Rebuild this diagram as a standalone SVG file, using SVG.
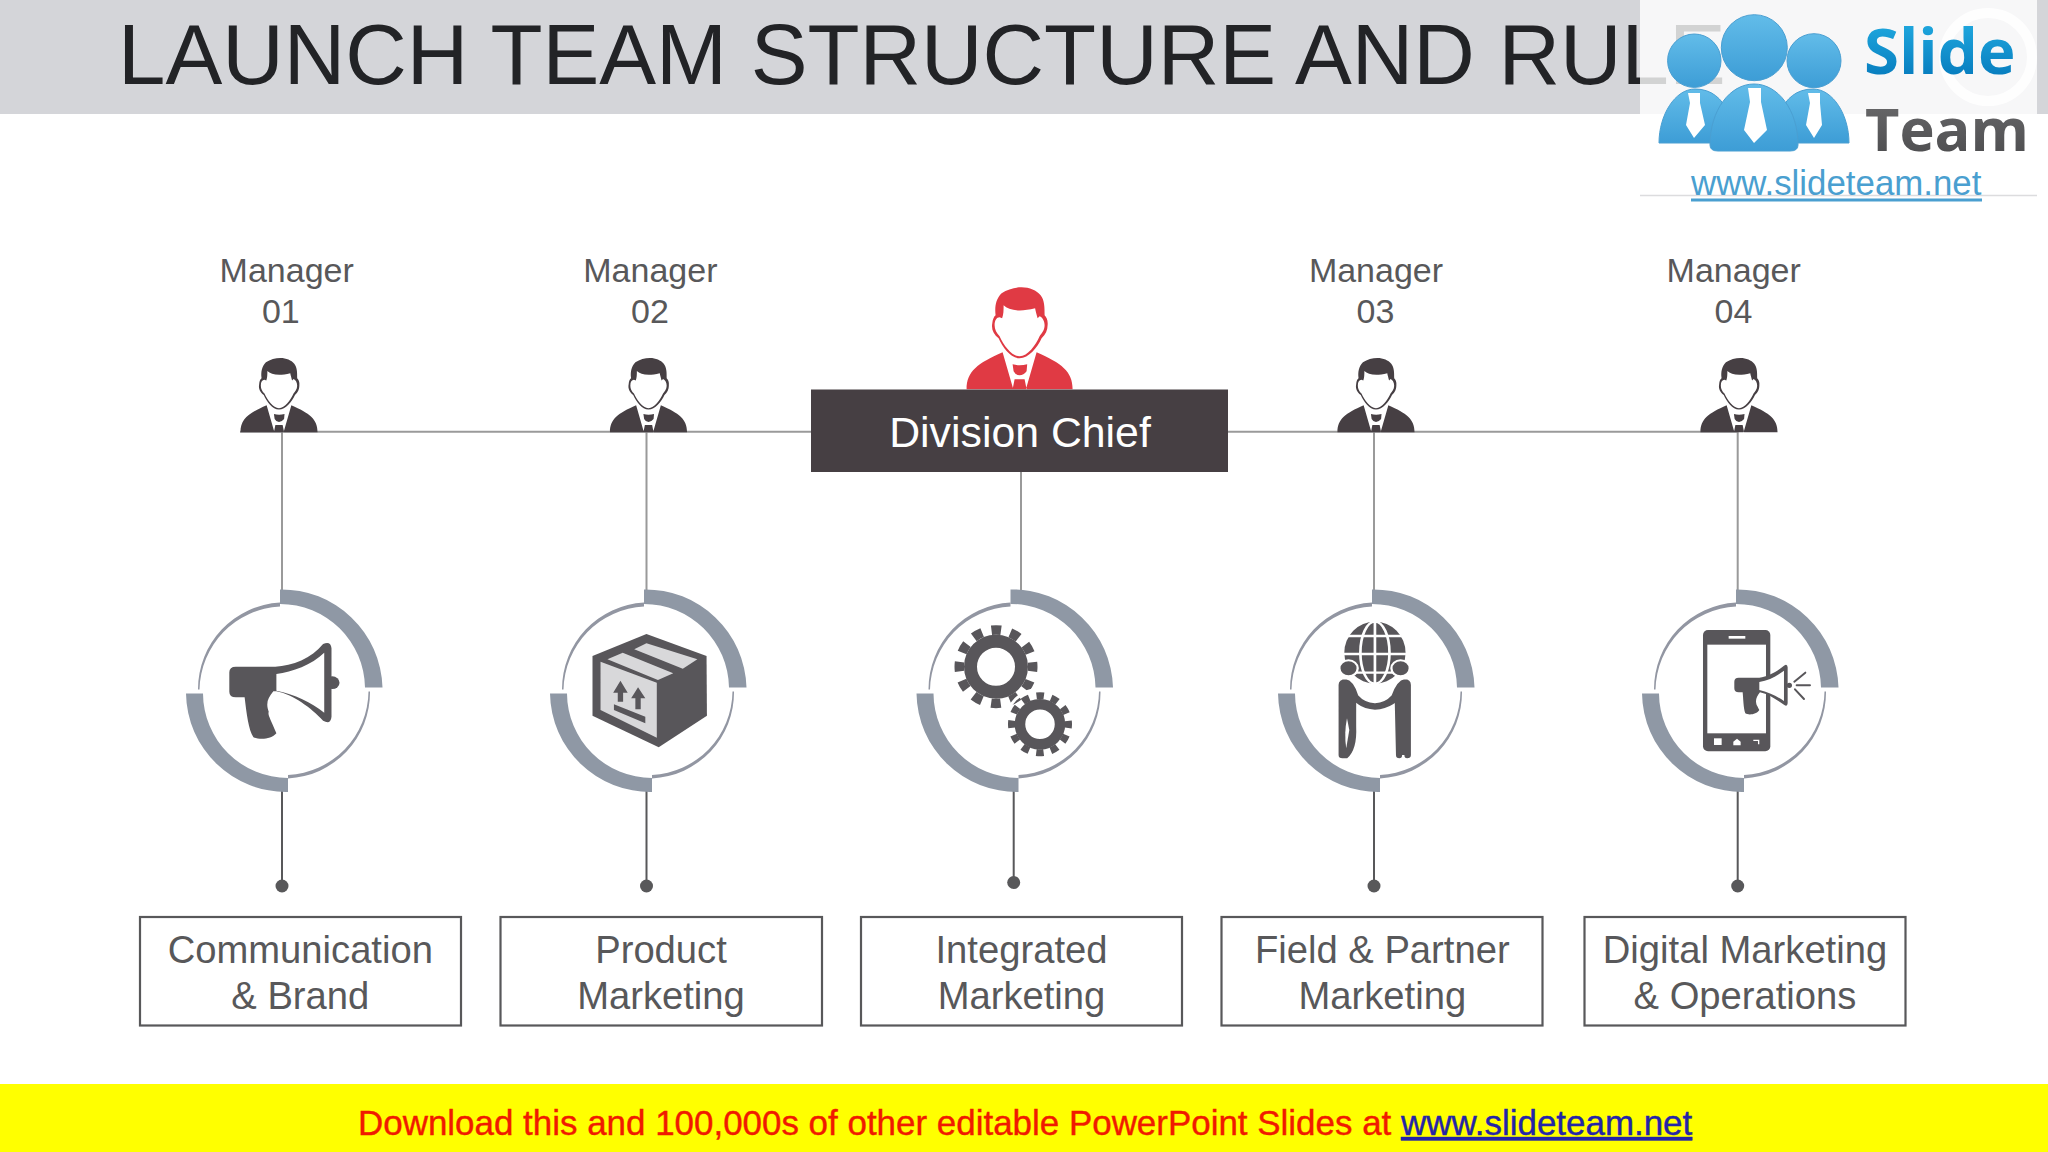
<svg xmlns="http://www.w3.org/2000/svg" width="2048" height="1152" viewBox="0 0 2048 1152">
<style>
text{font-family:"Liberation Sans",Arial,sans-serif}
.mgr{font-size:34px;fill:#58585a;text-anchor:middle}
.lbl{font-size:38.2px;fill:#58585a;text-anchor:middle}
.box{fill:#fff;stroke:#58585a;stroke-width:2.2}
.up{stroke:#9a9a9a;stroke-width:2;fill:none}
.low{stroke:#58585a;stroke-width:2;fill:none}
.dot{fill:#58585a}
.ic{fill:#58565a}
.wh{fill:#fff}
.thick{fill:#8f98a5}
.thin{fill:#9296a2}
</style>
<defs>
<g id="ring">
<path class="thick" d="M-4,-101A101,101 0 0 1 98.5,-3L81,-3A85,85 0 0 0 -4,-86.5Z"/>
<path class="thick" d="M-98,3L-81,3A85,85 0 0 0 4,87.5L4,101.5A100,100 0 0 1 -98,3Z"/>
<path class="thin" d="M-86,-1A87,87 0 0 1 -4,-88L-4,-84A85,85 0 0 0 -84.5,-1Z"/>
<path class="thin" d="M86,1A86,86 0 0 1 4,88L4,84.5A84.5,84.5 0 0 0 84.5,1Z"/>
</g>
<g id="person">
<path d="M-53,102C-53,84 -42,76 -17,65L-6.3,102ZM53,102C53,84 42,76 17,65L6.3,102ZM-7,77Q0,79 7.6,77L7,84Q4,88 0,88Q-4,88 -6,84ZM-5,92L5,92L7,102L-7,102Z"/>
<path d="M0,71C-9,71 -17,60 -21,51C-26,47 -28.5,42 -27.3,36C-27,32 -25.5,29 -24,28C-25,20 -24,12 -18,6C-12,2 -5,0 2,0C10,0 17,3 21,8C25,13 25,20 25,28C27,30 28.5,33 28,38C28,43 26,47 22,51C18,60 9,71 0,71Z"/>
<path class="wh" d="M-16,18C-11,23 0,25 15.5,21C16,24 17,27 18,31L20,29C23,30 25,34 25,38C25,43 22,46 20,49C16,58 8,69 0,69C-8,69 -16,58 -20,49C-23,46 -25,42 -25,38C-25,33 -23,30 -20,30L-17.5,31C-16,27 -16,23 -16,18Z"/>
</g>
<linearGradient id="bl" x1="0" y1="0" x2="0" y2="1"><stop offset="0" stop-color="#62bce9"/><stop offset="1" stop-color="#3d9dd6"/></linearGradient>
<linearGradient id="sl" x1="0" y1="0" x2="0" y2="1"><stop offset="0" stop-color="#27b5e8"/><stop offset="1" stop-color="#0070b5"/></linearGradient>
<linearGradient id="tm" x1="0" y1="0" x2="0" y2="1"><stop offset="0" stop-color="#6f6f71"/><stop offset="1" stop-color="#48484a"/></linearGradient>
</defs>
<rect width="2048" height="1152" fill="#fff"/>
<g id="title-bar">
<rect width="2048" height="114" fill="#d4d5d9"/>
<text x="118" y="83.5" font-size="85.2" fill="#222326">LAUNCH TEAM STRUCTURE AND RULE</text>
</g>
<g id="connectors">
<path class="up" d="M240,431.7H811M1228,431.7H1738"/>
<path class="up" d="M282,431.7V590M646.5,431.7V590M1021,472V590M1374,431.7V590M1737.7,431.7V590"/>
<path class="low" d="M282,790V886M646.5,790V886M1013.7,790V882M1374,790V886M1737.7,790V886"/>
<circle class="dot" cx="282" cy="886" r="6.5"/><circle class="dot" cx="646.5" cy="886" r="6.5"/><circle class="dot" cx="1013.7" cy="882.5" r="6.5"/><circle class="dot" cx="1374" cy="886" r="6.5"/><circle class="dot" cx="1737.7" cy="886" r="6.5"/>
</g>
<g id="manager-1">
<text class="mgr" x="286.7" y="282">Manager</text><text class="mgr" x="280.8" y="323">01</text>
<use href="#person" transform="translate(279,358) scale(.727)" fill="#463f43"/>
</g>
<g id="manager-2">
<text class="mgr" x="650.4" y="282">Manager</text><text class="mgr" x="650" y="323">02</text>
<use href="#person" transform="translate(648.5,358) scale(.727)" fill="#463f43"/>
</g>
<g id="division-chief">
<use href="#person" transform="translate(1019.6,287.3)" fill="#e03a44"/>
<rect x="811" y="389.5" width="417" height="82.5" fill="#463f43"/>
<text x="1020" y="446.7" font-size="42.8" fill="#fff" text-anchor="middle">Division Chief</text>
</g>
<g id="manager-3">
<text class="mgr" x="1376" y="282">Manager</text><text class="mgr" x="1375.5" y="323">03</text>
<use href="#person" transform="translate(1376,358) scale(.727)" fill="#463f43"/>
</g>
<g id="manager-4">
<text class="mgr" x="1733.7" y="282">Manager</text><text class="mgr" x="1733.5" y="323">04</text>
<use href="#person" transform="translate(1739,358) scale(.727)" fill="#463f43"/>
</g>
<g id="communication">
<use href="#ring" x="284" y="690.4"/>
<g class="ic" transform="translate(170,570) scale(.3827,.3333)">
<path d="M172,290H275C320,288 370,265 400,222Q420,212 422,235V440Q420,465 400,452C370,415 320,372 278,364H270C255,385 250,400 258,425C255,435 262,445 278,490C265,508 235,510 218,502C205,480 200,430 195,382H172Q155,382 155,365V307Q155,290 172,290Z"/>
<circle cx="424" cy="338" r="19"/>
<path class="wh" d="M278,312C320,305 370,285 403,248V428C370,398 325,372 278,362Z"/>
</g>
</g>
<g id="product">
<use href="#ring" x="648" y="690.4"/>
<g transform="translate(170,570) scale(.3827,.3333)">
<path class="ic" d="M1245,192L1402,258L1403,437L1277,532L1104,437V258Z"/>
<path fill="#d8d8da" d="M1125,275L1272,338V503L1125,420ZM1143,268L1183,248L1315,310L1275,330ZM1213,238L1245,220L1378,268L1340,296Z"/>
<path class="ic" d="M1177,332L1196,368H1184V395H1170V368H1158ZM1223,352L1242,385H1230V418H1216V385H1205ZM1160,403L1242,440V460L1160,420Z"/>
</g>
</g>
<g id="integrated">
<use href="#ring" x="1014.5" y="690.4"/>
<g fill="none" stroke="#58565a">
<circle cx="996" cy="666.7" r="36.75" stroke-width="9.5" stroke-dasharray="9.62 9.62" stroke-dashoffset="4.81"/>
<circle cx="996" cy="666.7" r="25.5" stroke-width="13"/>
<circle cx="1040" cy="724.3" r="35" stroke="#fff" stroke-width="3"/>
<circle cx="1040" cy="724.3" r="28.5" stroke-width="7" stroke-dasharray="7.46 7.46" stroke-dashoffset="3.73"/>
<circle cx="1040" cy="724.3" r="20" stroke-width="10.5"/>
</g>
</g>
<g id="field-partner">
<use href="#ring" x="1376" y="690.4"/>
<g transform="translate(900,570) scale(.3827,.3333)">
<ellipse class="ic" cx="1241" cy="248" rx="80" ry="93"/>
<g fill="none" stroke="#fff" stroke-width="7">
<ellipse cx="1241" cy="248" rx="38" ry="93"/>
<path d="M1241,155V341M1160,198H1322M1158,252H1322M1165,308H1318"/>
</g>
<g stroke="#fff" stroke-width="6" class="ic">
<circle cx="1172" cy="295" r="24"/><circle cx="1308" cy="295" r="24"/>
<path d="M1143,345Q1143,325 1165,325Q1187,328 1200,375Q1215,395 1241,397Q1267,395 1282,375Q1297,328 1318,325Q1338,325 1338,345V555Q1338,568 1325,568Q1315,568 1315,555Q1315,568 1305,568Q1293,568 1293,555L1290,405Q1270,420 1241,422Q1212,420 1195,405V470Q1198,540 1170,568H1156Q1143,568 1143,555Z"/>
</g>
<path class="wh" d="M1168,445L1174,480L1166,535Q1160,490 1168,445Z"/>
</g>
</g>
<g id="digital">
<use href="#ring" x="1740" y="690.4"/>
<g transform="translate(1600,570) scale(.3333)">
<rect class="ic" x="309" y="180" width="202" height="364" rx="15"/>
<rect class="wh" x="322" y="224" width="176" height="266"/>
<rect class="wh" x="386" y="198" width="50" height="8"/>
<rect class="wh" x="342" y="505" width="23" height="20"/>
<path class="wh" d="M400,526V515L411,506L422,515V526Z"/>
<path fill="none" stroke="#fff" stroke-width="4" d="M460,511H476V523"/>
<path class="ic" d="M416,323H478C505,320 530,305 552,287Q562,280 563,292V400Q562,412 552,404C530,390 505,372 480,367C470,380 465,390 470,405C474,412 476,417 478,420C470,434 445,436 436,430C430,415 430,385 428,367H416Q403,367 403,355V335Q403,323 416,323Z"/>
<path class="wh" d="M478,336C505,332 530,318 552,302V393C530,378 505,366 478,360Z"/>
<circle class="ic" cx="568" cy="346" r="8"/>
<path fill="none" stroke="#58565a" stroke-width="6" stroke-linecap="round" d="M583,335L616,308M590,346H630M585,358L612,387"/>
</g>
</g>
<g id="box-1"><rect class="box" x="140" y="917" width="321" height="108.5"/><text class="lbl" x="300.3" y="962.5">Communication</text><text class="lbl" x="300.3" y="1008.5">&amp; Brand</text></g>
<g id="box-2"><rect class="box" x="500.5" y="917" width="321.5" height="108.5"/><text class="lbl" x="661" y="962.5">Product</text><text class="lbl" x="661" y="1008.5">Marketing</text></g>
<g id="box-3"><rect class="box" x="861" y="917" width="321" height="108.5"/><text class="lbl" x="1021.5" y="962.5">Integrated</text><text class="lbl" x="1021.5" y="1008.5">Marketing</text></g>
<g id="box-4"><rect class="box" x="1221.5" y="917" width="321" height="108.5"/><text class="lbl" x="1382.3" y="962.5">Field &amp; Partner</text><text class="lbl" x="1382.3" y="1008.5">Marketing</text></g>
<g id="box-5"><rect class="box" x="1584.5" y="917" width="321" height="108.5"/><text class="lbl" x="1745" y="962.5">Digital Marketing</text><text class="lbl" x="1745" y="1008.5">&amp; Operations</text></g>
<g id="footer">
<rect y="1084" width="2048" height="68" fill="#ffff00"/>
<text x="358" y="1135" font-size="34.95" fill="#f01a00" stroke="#f01a00" stroke-width=".4">Download this and 100,000s of other editable PowerPoint Slides at <tspan fill="#2424a8" stroke="#2424a8" text-decoration="underline">www.slideteam.net</tspan></text>
</g>
<g id="logo">
<rect x="1640" width="397" height="195" fill="#fff" fill-opacity=".8"/>
<path d="M1640,195.5H2037" stroke="#dcdcde" stroke-width="1.5"/>
<circle cx="1988" cy="57" r="44" fill="none" stroke="#fff" stroke-width="10" stroke-opacity=".85"/>
<g fill="url(#bl)" stroke="#4a9fd2" stroke-width="1">
<circle cx="1694.3" cy="60.7" r="26.7"/><circle cx="1814" cy="60.7" r="27"/>
<path d="M1659,143C1659,115 1675,89 1695,89C1712,89 1722,99 1728,112L1728,143Z"/>
<path d="M1849,143C1849,115 1833,89 1813,89C1796,89 1786,99 1780,112L1780,143Z"/>
<circle cx="1754.3" cy="47.7" r="33"/>
<path d="M1710,145C1710,110 1730,84 1754,84C1778,84 1798,110 1798,145Q1798,151 1790,151H1718Q1710,151 1710,145Z"/>
</g>
<path class="wh" d="M1688,93H1700V103L1705,125L1694,138L1686,125L1690,103ZM1748,88H1761V102L1767,130L1754,143L1744,130L1750,102ZM1808,93H1820V103L1822,125L1814,138L1806,125L1810,103Z"/>
<text x="1864" y="74" font-size="63.5" font-weight="700" fill="url(#sl)" style="font-family:'Open Sans',sans-serif">Slide</text>
<text x="1865" y="150.7" font-size="59.5" font-weight="700" fill="url(#tm)" style="font-family:'Open Sans',sans-serif">Team</text>
<text x="1691" y="195" font-size="34.85" fill="#4a9fd0">www.slideteam.net</text>
<rect x="1691" y="198.5" width="291" height="3" fill="#4a9fd0"/>
</g>
</svg>
